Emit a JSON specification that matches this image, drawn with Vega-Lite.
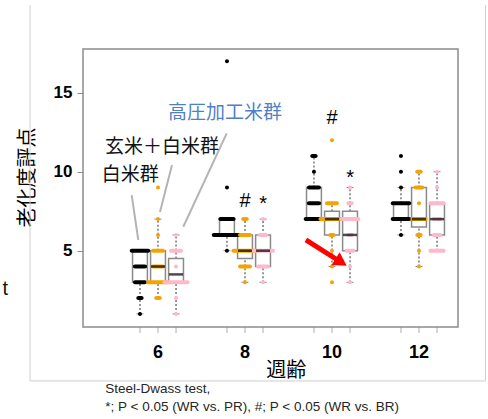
{
  "$schema": "https://vega.github.io/schema/vega-lite/v6.json",
  "width": 375,
  "height": 278,
  "autosize": "none",
  "padding": {"left": 83, "top": 49, "right": 30, "bottom": 92},
  "background": "white",
  "config": {"view": {"stroke": "#8c8c8c", "strokeWidth": 1.5}, "font": "Liberation Sans"},
  "datasets": {
    "boxes": [
      {"week": 6, "group": "WR", "lo": 1, "q1": 3, "med": 4, "q3": 5, "hi": 5},
      {"week": 6, "group": "BR", "lo": 2, "q1": 3, "med": 4, "q3": 5, "hi": 7},
      {"week": 6, "group": "PR", "lo": 1, "q1": 3, "med": 3.5, "q3": 4.5, "hi": 6},
      {"week": 8, "group": "WR", "lo": 5, "q1": 6, "med": 6, "q3": 7, "hi": 7},
      {"week": 8, "group": "BR", "lo": 3, "q1": 4.5, "med": 5, "q3": 6, "hi": 7},
      {"week": 8, "group": "PR", "lo": 3, "q1": 4, "med": 5, "q3": 6, "hi": 7},
      {"week": 10, "group": "WR", "lo": 7, "q1": 7, "med": 8, "q3": 9, "hi": 11},
      {"week": 10, "group": "BR", "lo": 4, "q1": 6, "med": 7, "q3": 7.5, "hi": 8},
      {"week": 10, "group": "PR", "lo": 3, "q1": 5, "med": 6, "q3": 7.5, "hi": 9},
      {"week": 12, "group": "WR", "lo": 6, "q1": 7, "med": 7, "q3": 8, "hi": 9},
      {"week": 12, "group": "BR", "lo": 4, "q1": 6.5, "med": 7, "q3": 9, "hi": 10},
      {"week": 12, "group": "PR", "lo": 5, "q1": 6, "med": 7, "q3": 8, "hi": 10}
    ],
    "dots": [
      {"week": 6, "group": "WR", "v": 5, "n": 6},
      {"week": 6, "group": "WR", "v": 4, "n": 4},
      {"week": 6, "group": "WR", "v": 3, "n": 4},
      {"week": 6, "group": "WR", "v": 2, "n": 2},
      {"week": 6, "group": "WR", "v": 1, "n": 1},
      {"week": 6, "group": "BR", "v": 9, "n": 1},
      {"week": 6, "group": "BR", "v": 7, "n": 1},
      {"week": 6, "group": "BR", "v": 6, "n": 1},
      {"week": 6, "group": "BR", "v": 5, "n": 4},
      {"week": 6, "group": "BR", "v": 4, "n": 4},
      {"week": 6, "group": "BR", "v": 3, "n": 7},
      {"week": 6, "group": "BR", "v": 2, "n": 2},
      {"week": 6, "group": "PR", "v": 6, "n": 1},
      {"week": 6, "group": "PR", "v": 5, "n": 4},
      {"week": 6, "group": "PR", "v": 4, "n": 1},
      {"week": 6, "group": "PR", "v": 3, "n": 8},
      {"week": 6, "group": "PR", "v": 2, "n": 1},
      {"week": 6, "group": "PR", "v": 1, "n": 1},
      {"week": 8, "group": "WR", "v": 17, "n": 1},
      {"week": 8, "group": "WR", "v": 9, "n": 1},
      {"week": 8, "group": "WR", "v": 7, "n": 5},
      {"week": 8, "group": "WR", "v": 6, "n": 9},
      {"week": 8, "group": "WR", "v": 5, "n": 1},
      {"week": 8, "group": "BR", "v": 7, "n": 2},
      {"week": 8, "group": "BR", "v": 6, "n": 4},
      {"week": 8, "group": "BR", "v": 5, "n": 8},
      {"week": 8, "group": "BR", "v": 4, "n": 4},
      {"week": 8, "group": "BR", "v": 3, "n": 1},
      {"week": 8, "group": "PR", "v": 7, "n": 1},
      {"week": 8, "group": "PR", "v": 6, "n": 3},
      {"week": 8, "group": "PR", "v": 5, "n": 7},
      {"week": 8, "group": "PR", "v": 4, "n": 4},
      {"week": 8, "group": "PR", "v": 3, "n": 1},
      {"week": 10, "group": "WR", "v": 11, "n": 2},
      {"week": 10, "group": "WR", "v": 10, "n": 1},
      {"week": 10, "group": "WR", "v": 9, "n": 4},
      {"week": 10, "group": "WR", "v": 8, "n": 4},
      {"week": 10, "group": "WR", "v": 7, "n": 6},
      {"week": 10, "group": "BR", "v": 12, "n": 1},
      {"week": 10, "group": "BR", "v": 8, "n": 4},
      {"week": 10, "group": "BR", "v": 7, "n": 8},
      {"week": 10, "group": "BR", "v": 6, "n": 2},
      {"week": 10, "group": "BR", "v": 5, "n": 1},
      {"week": 10, "group": "BR", "v": 4, "n": 1},
      {"week": 10, "group": "BR", "v": 3, "n": 1},
      {"week": 10, "group": "PR", "v": 9, "n": 1},
      {"week": 10, "group": "PR", "v": 8, "n": 2},
      {"week": 10, "group": "PR", "v": 7, "n": 6},
      {"week": 10, "group": "PR", "v": 6, "n": 2},
      {"week": 10, "group": "PR", "v": 5, "n": 3},
      {"week": 10, "group": "PR", "v": 4, "n": 1},
      {"week": 10, "group": "PR", "v": 3, "n": 1},
      {"week": 12, "group": "WR", "v": 11, "n": 1},
      {"week": 12, "group": "WR", "v": 10, "n": 1},
      {"week": 12, "group": "WR", "v": 9, "n": 1},
      {"week": 12, "group": "WR", "v": 8, "n": 6},
      {"week": 12, "group": "WR", "v": 7, "n": 6},
      {"week": 12, "group": "WR", "v": 6, "n": 1},
      {"week": 12, "group": "BR", "v": 10, "n": 2},
      {"week": 12, "group": "BR", "v": 9, "n": 3},
      {"week": 12, "group": "BR", "v": 8, "n": 1},
      {"week": 12, "group": "BR", "v": 7, "n": 5},
      {"week": 12, "group": "BR", "v": 6, "n": 2},
      {"week": 12, "group": "BR", "v": 5, "n": 1},
      {"week": 12, "group": "BR", "v": 4, "n": 1},
      {"week": 12, "group": "PR", "v": 10, "n": 1},
      {"week": 12, "group": "PR", "v": 9, "n": 1},
      {"week": 12, "group": "PR", "v": 8, "n": 5},
      {"week": 12, "group": "PR", "v": 7, "n": 3},
      {"week": 12, "group": "PR", "v": 6, "n": 3},
      {"week": 12, "group": "PR", "v": 5, "n": 5}
    ],
    "sig": [
      {"week": 8, "group": "BR", "y": 7.78, "label": "#"},
      {"week": 8, "group": "PR", "y": 7.6, "label": "*"},
      {"week": 10, "group": "BR", "y": 13.0, "label": "#"},
      {"week": 10, "group": "PR", "y": 9.2, "label": "*"}
    ],
    "segs": [
      {"kind": "line", "x1": 5.395, "y1": 8.525, "x2": 5.547, "y2": 5.677},
      {"kind": "line", "x1": 6.322, "y1": 10.424, "x2": 6.046, "y2": 7.449},
      {"kind": "line", "x1": 7.579, "y1": 12.43, "x2": 6.582, "y2": 6.519},
      {"kind": "arrow", "x1": 9.40, "y1": 5.68, "x2": 10.21, "y2": 4.27},
      {"kind": "frame", "x1": 3.058, "y1": 20.55, "x2": 3.058, "y2": -3.247},
      {"kind": "frame", "x1": 3.058, "y1": -3.247, "x2": 13.529, "y2": -3.247},
      {"kind": "frame", "x1": 13.529, "y1": 20.55, "x2": 13.529, "y2": -3.247}
    ],
    "notes": [
      {"label": "高圧加工米群", "x": 6.23, "y": 13.7, "kind": "blue"},
      {"label": "玄米＋白米群", "x": 4.782, "y": 11.58, "kind": "black"},
      {"label": "白米群", "x": 4.706, "y": 9.79, "kind": "black"}
    ],
    "foot": [
      {"label": "Steel-Dwass test,", "x": 4.789, "y": -3.753},
      {"label": "*; P < 0.05 (WR vs. PR), #; P < 0.05 (WR vs. BR)", "x": 4.789, "y": -4.892}
    ]
  },
  "layer": [
    {
      "encoding": {
        "x": {
          "field": "week", "type": "ordinal",
          "scale": {"range": [31.5, 379.5], "paddingInner": 0, "paddingOuter": 0},
          "axis": {
            "title": "週齢", "labelAngle": 0, "ticks": false, "domain": false,
            "labelFont": "Liberation Sans", "labelFontWeight": "bold", "labelFontSize": 18,
            "labelColor": "#000", "labelPadding": 16,
            "titleFont": "Noto Sans CJK JP", "titleFontWeight": "normal", "titleFontSize": 20,
            "titleColor": "#000", "titleX": 202.8, "titleY": 43, "titleBaseline": "middle"
          }
        },
        "xOffset": {
          "field": "group", "type": "nominal",
          "scale": {"domain": ["WR", "BR", "PR"], "paddingInner": 0.17647, "paddingOuter": 1.147}
        }
      },
      "layer": [
        {
          "data": {"name": "boxes"},
          "mark": {"type": "rule", "color": "#555", "strokeWidth": 1.2, "strokeDash": [2, 2]},
          "encoding": {
            "y": {
              "field": "lo", "type": "quantitative", "title": "老化度評点",
              "scale": {"domain": [0.17, 17.77], "nice": false, "zero": false},
              "axis": {
                "values": [5, 10, 15], "grid": false, "domain": false, "tickColor": "#8c8c8c", "tickSize": 6,
                "labelFont": "Liberation Sans", "labelFontWeight": "bold", "labelFontSize": 17,
                "labelColor": "#000", "labelPadding": 5,
                "titleFont": "Noto Sans CJK JP", "titleFontWeight": "normal", "titleFontSize": 20,
                "titleColor": "#000", "titleX": -56, "titleY": 128, "titleBaseline": "middle"
              }
            },
            "y2": {"field": "q1"}
          }
        },
        {
          "data": {"name": "boxes"},
          "mark": {"type": "rule", "color": "#555", "strokeWidth": 1.2, "strokeDash": [2, 2]},
          "encoding": {
            "y": {"field": "q3", "type": "quantitative", "title": "老化度評点"},
            "y2": {"field": "hi"}
          }
        },
        {
          "data": {"name": "boxes"},
          "mark": {"type": "tick", "color": "#555", "size": 7, "thickness": 1},
          "encoding": {"y": {"field": "lo", "type": "quantitative", "title": "老化度評点"}}
        },
        {
          "data": {"name": "boxes"},
          "mark": {"type": "tick", "color": "#555", "size": 7, "thickness": 1},
          "encoding": {"y": {"field": "hi", "type": "quantitative", "title": "老化度評点"}}
        },
        {
          "data": {"name": "boxes"},
          "mark": {"type": "bar", "fill": "white", "fillOpacity": 0, "stroke": "#8a8a8a", "strokeWidth": 1.5},
          "encoding": {
            "y": {"field": "q1", "type": "quantitative", "title": "老化度評点"},
            "y2": {"field": "q3"}
          }
        },
        {
          "data": {"name": "dots"},
          "mark": {"type": "tick", "thickness": 4, "cornerRadius": 2, "opacity": 1},
          "encoding": {
            "y": {"field": "v", "type": "quantitative", "title": "老化度評点"},
            "size": {"field": "n", "type": "quantitative", "scale": {"domain": [1, 10], "range": [4, 33.7]}, "legend": null},
            "color": {"field": "group", "type": "nominal", "scale": {"domain": ["WR", "BR", "PR"], "range": ["#000000", "#f5a300", "#ffb8c8"]}, "legend": null}
          }
        },
        {
          "data": {"name": "boxes"},
          "mark": {"type": "tick", "color": "#000", "size": 14, "thickness": 2.5},
          "encoding": {"y": {"field": "med", "type": "quantitative", "title": "老化度評点"}}
        },
        {
          "data": {"name": "boxes"},
          "mark": {"type": "tick", "orient": "vertical", "color": "#8c8c8c", "size": 6, "thickness": 1, "yOffset": 3},
          "encoding": {"y": {"datum": 0.17, "type": "quantitative", "title": "老化度評点"}}
        },
        {
          "data": {"name": "sig"},
          "mark": {"type": "text", "font": "Liberation Sans", "fontSize": 20, "color": "#000", "baseline": "alphabetic"},
          "encoding": {
            "y": {"field": "y", "type": "quantitative", "title": "老化度評点"},
            "text": {"field": "label"}
          }
        }
      ]
    },
    {
      "encoding": {
        "x": {"field": "x", "type": "quantitative", "scale": {"domain": [4.276, 12.897], "nice": false, "zero": false}, "axis": null}
      },
      "layer": [
        {
          "data": {"name": "segs"},
          "transform": [{"filter": "datum.kind === 'frame'"}],
          "mark": {"type": "rule", "color": "#cfcfcf", "strokeWidth": 1},
          "encoding": {
            "x": {"field": "x1", "type": "quantitative"},
            "x2": {"field": "x2"},
            "y": {"field": "y1", "type": "quantitative", "title": "老化度評点"},
            "y2": {"field": "y2"}
          }
        },
        {
          "data": {"name": "segs"},
          "transform": [{"filter": "datum.kind === 'line'"}],
          "mark": {"type": "rule", "color": "#b4b4b4", "strokeWidth": 2},
          "encoding": {
            "x": {"field": "x1", "type": "quantitative"},
            "x2": {"field": "x2"},
            "y": {"field": "y1", "type": "quantitative", "title": "老化度評点"},
            "y2": {"field": "y2"}
          }
        },
        {
          "data": {"name": "segs"},
          "transform": [{"filter": "datum.kind === 'arrow'"}],
          "mark": {"type": "rule", "color": "#ff0000", "strokeWidth": 5},
          "encoding": {
            "x": {"field": "x1", "type": "quantitative"},
            "x2": {"field": "x2"},
            "y": {"field": "y1", "type": "quantitative", "title": "老化度評点"},
            "y2": {"field": "y2"}
          }
        },
        {
          "data": {"name": "segs"},
          "transform": [{"filter": "datum.kind === 'arrow'"}],
          "mark": {"type": "point", "shape": "triangle-right", "filled": true, "color": "#ff0000", "size": 230, "angle": 32.4, "opacity": 1},
          "encoding": {
            "x": {"field": "x2", "type": "quantitative"},
            "y": {"field": "y2", "type": "quantitative", "title": "老化度評点"}
          }
        },
        {
          "data": {"name": "notes"},
          "transform": [{"filter": "datum.kind === 'blue'"}],
          "mark": {"type": "text", "font": "Noto Sans CJK JP", "fontSize": 19, "align": "left", "baseline": "middle", "color": "#4f7fc9"},
          "encoding": {
            "x": {"field": "x", "type": "quantitative"},
            "y": {"field": "y", "type": "quantitative", "title": "老化度評点"},
            "text": {"field": "label"}
          }
        },
        {
          "data": {"name": "notes"},
          "transform": [{"filter": "datum.kind === 'black'"}],
          "mark": {"type": "text", "font": "Noto Sans CJK JP", "fontSize": 19, "align": "left", "baseline": "middle", "color": "#111111"},
          "encoding": {
            "x": {"field": "x", "type": "quantitative"},
            "y": {"field": "y", "type": "quantitative", "title": "老化度評点"},
            "text": {"field": "label"}
          }
        },
        {
          "data": {"name": "foot"},
          "mark": {"type": "text", "font": "Liberation Sans", "fontSize": 13.5, "align": "left", "baseline": "middle", "color": "#262626"},
          "encoding": {
            "x": {"field": "x", "type": "quantitative"},
            "y": {"field": "y", "type": "quantitative", "title": "老化度評点"},
            "text": {"field": "label"}
          }
        },
        {
          "data": {"values": [{"label": "t", "x": 2.552, "y": 2.576}]},
          "mark": {"type": "text", "font": "Liberation Sans", "fontSize": 20, "align": "right", "baseline": "middle", "color": "#111"},
          "encoding": {
            "x": {"field": "x", "type": "quantitative"},
            "y": {"field": "y", "type": "quantitative", "title": "老化度評点"},
            "text": {"field": "label"}
          }
        }
      ]
    }
  ],
  "resolve": {"scale": {"x": "independent"}}
}
